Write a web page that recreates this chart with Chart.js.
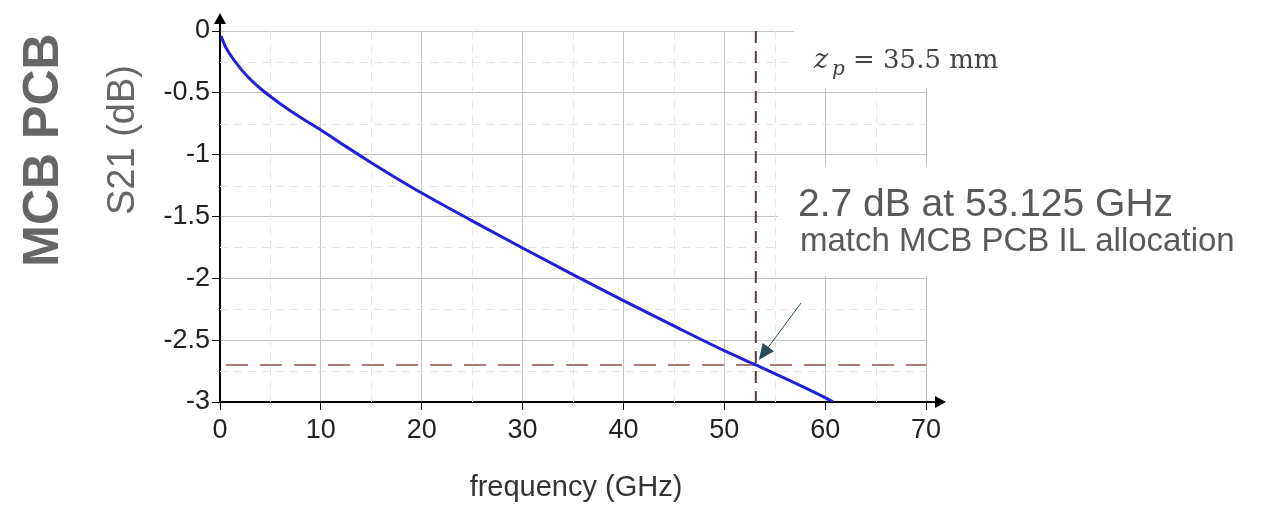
<!DOCTYPE html>
<html>
<head>
<meta charset="utf-8">
<script src="https://cdn.jsdelivr.net/npm/chart.js@4"></script>
<style>
  html, body { margin: 0; padding: 0; background: #fff; }
  #wrap { width: 1261px; height: 505px; }
</style>
</head>
<body>
<div id="wrap"><canvas id="s21Chart" width="1261" height="505"></canvas></div>
<script>
// frequency in GHz, S21 in dB
const freq = [0.1, 0.5, 1, 2, 3, 4, 5, 6, 8, 10, 12.5, 15, 17.5, 20, 25, 30, 35, 40, 45, 50, 53.125, 55, 60, 60.8];
const s21  = [-0.04, -0.12, -0.19, -0.3, -0.39, -0.465, -0.53, -0.59, -0.7, -0.8, -0.935, -1.065, -1.19, -1.31, -1.535, -1.755, -1.97, -2.18, -2.385, -2.585, -2.7, -2.77, -2.965, -3.0];
const markFreq = 53.125;
const markLoss = -2.7;
const xTicks = [0, 10, 20, 30, 40, 50, 60, 70];
const yTicks = [0, -0.5, -1, -1.5, -2, -2.5, -3];

const W = 1261, H = 505;
const plotLeft = 220, plotRight = 926, plotTop = 31, plotBottom = 402;
const sans = '"Liberation Sans", Arial, sans-serif';

const overlay = {
    id: 'overlay',
    beforeDatasetsDraw(chart) {
        const ctx = chart.ctx, x = chart.scales.x, y = chart.scales.y;
        const a = chart.chartArea;
        // minor dashed grid
        ctx.save();
        ctx.strokeStyle = '#e6e6e6';
        ctx.lineWidth = 1;
        ctx.setLineDash([8, 6]);
        for (let f = 5; f < 70; f += 10) {
            const px = Math.round(x.getPixelForValue(f)) + 0.5;
            ctx.beginPath(); ctx.moveTo(px, a.top); ctx.lineTo(px, a.bottom); ctx.stroke();
        }
        for (let v = -0.25; v > -3; v -= 0.5) {
            const py = Math.round(y.getPixelForValue(v)) + 0.5;
            ctx.beginPath(); ctx.moveTo(a.left, py); ctx.lineTo(a.right, py); ctx.stroke();
        }
        // reference lines
        ctx.setLineDash([22, 12]);
        ctx.strokeStyle = '#b07a78';
        ctx.lineWidth = 2;
        const hy = y.getPixelForValue(markLoss);
        ctx.beginPath(); ctx.moveTo(a.left + 6, hy); ctx.lineTo(a.right, hy); ctx.stroke();
        ctx.setLineDash([12, 8]);
        ctx.strokeStyle = '#5a3a36';
        const vx = x.getPixelForValue(markFreq);
        ctx.beginPath(); ctx.moveTo(vx, a.top); ctx.lineTo(vx, a.bottom); ctx.stroke();
        ctx.restore();
    },
    afterDraw(chart) {
        const ctx = chart.ctx, x = chart.scales.x, y = chart.scales.y;
        const a = chart.chartArea;
        ctx.save();
        // white cover boxes behind the annotations
        ctx.fillStyle = '#fff';
        ctx.fillRect(794, 0, 220, 88);
        ctx.fillRect(778, 166, W - 778, 110);

        // axis arrows
        ctx.fillStyle = '#000';
        ctx.strokeStyle = '#000';
        ctx.lineWidth = 2;
        ctx.beginPath(); ctx.moveTo(a.left, a.top); ctx.lineTo(a.left, 20); ctx.stroke();
        ctx.beginPath(); ctx.moveTo(a.left, 13); ctx.lineTo(a.left - 6, 24); ctx.lineTo(a.left + 6, 24); ctx.closePath(); ctx.fill();
        ctx.beginPath(); ctx.moveTo(a.right, a.bottom); ctx.lineTo(938, a.bottom); ctx.stroke();
        ctx.beginPath(); ctx.moveTo(946, a.bottom); ctx.lineTo(935, a.bottom - 6); ctx.lineTo(935, a.bottom + 6); ctx.closePath(); ctx.fill();

        // axis titles
        ctx.fillStyle = '#333';
        ctx.font = '29px ' + sans;
        ctx.textAlign = 'center';
        ctx.textBaseline = 'middle';
        ctx.fillText('frequency (GHz)', 576, 488);

        ctx.save();
        ctx.translate(124, 140);
        ctx.rotate(-Math.PI / 2);
        ctx.fillStyle = '#666';
        ctx.font = '38px ' + sans;
        ctx.fillText('S21 (dB)', 0, 0);
        ctx.restore();

        ctx.save();
        ctx.translate(44, 150);
        ctx.rotate(-Math.PI / 2);
        ctx.fillStyle = '#666';
        ctx.font = 'bold 50px ' + sans;
        ctx.fillText('MCB PCB', 0, 0);
        ctx.restore();

        // annotation texts
        ctx.textAlign = 'left';
        ctx.textBaseline = 'alphabetic';
        ctx.fillStyle = '#595959';
        ctx.font = '39px ' + sans;
        ctx.fillText('2.7 dB at 53.125 GHz', 798, 216);
        ctx.font = '33px ' + sans;
        ctx.fillText('match MCB PCB IL allocation', 800, 251);

        ctx.fillStyle = '#444';
        ctx.font = 'italic 27px "DejaVu Serif", "Liberation Serif", serif';
        ctx.fillText('z', 814, 68);
        ctx.font = 'italic 20px "DejaVu Serif", "Liberation Serif", serif';
        ctx.fillText('p', 832, 75);
        ctx.font = '26px "DejaVu Serif", "Liberation Serif", serif';
        ctx.fillText('= 35.5 mm', 853, 68);

        // pointer arrow
        const tx = x.getPixelForValue(markFreq) + 3, ty = y.getPixelForValue(markLoss) - 5;
        const sx = 801, sy = 303;
        ctx.strokeStyle = '#2c4a5a';
        ctx.fillStyle = '#2c4a5a';
        ctx.lineWidth = 1;
        ctx.beginPath(); ctx.moveTo(sx, sy); ctx.lineTo(tx + 6, ty - 8); ctx.stroke();
        const ang = Math.atan2(ty - sy, tx - sx);
        ctx.beginPath();
        ctx.moveTo(tx, ty);
        ctx.lineTo(tx - 16 * Math.cos(ang) + 7 * Math.sin(ang), ty - 16 * Math.sin(ang) - 7 * Math.cos(ang));
        ctx.lineTo(tx - 16 * Math.cos(ang) - 7 * Math.sin(ang), ty - 16 * Math.sin(ang) + 7 * Math.cos(ang));
        ctx.closePath();
        ctx.fill();
        ctx.restore();
    }
};

const ctx = document.getElementById('s21Chart').getContext('2d');
new Chart(ctx, {
    type: 'line',
    data: {
        datasets: [{
            data: freq.map((f, i) => ({ x: f, y: s21[i] })),
            borderColor: '#2020d8',
            borderWidth: 3,
            pointRadius: 0,
            cubicInterpolationMode: 'monotone',
            fill: false
        }]
    },
    options: {
        responsive: false,
        animation: false,
        devicePixelRatio: 1,
        layout: {
            padding: { left: 0, top: plotTop, right: W - plotRight, bottom: 0 }
        },
        plugins: { legend: { display: false }, tooltip: { enabled: false } },
        scales: {
            x: {
                type: 'linear',
                min: 0, max: 70,
                afterFit: s => { s.height = H - plotBottom; },
                afterBuildTicks: s => { s.ticks = xTicks.map(v => ({ value: v })); },
                border: { color: '#000', width: 2 },
                grid: { color: '#c4c4c4', lineWidth: 1, tickColor: '#000', tickLength: 8 },
                ticks: {
                    color: '#222', padding: 4, maxRotation: 0,
                    font: { size: 27, family: sans }
                }
            },
            y: {
                type: 'linear',
                min: -3, max: 0,
                afterFit: s => { s.width = plotLeft; },
                afterBuildTicks: s => { s.ticks = yTicks.map(v => ({ value: v })); },
                border: { color: '#000', width: 2 },
                grid: { color: '#c4c4c4', lineWidth: 1, tickColor: '#000', tickLength: 8 },
                ticks: {
                    color: '#222', padding: 2,
                    font: { size: 27, family: sans },
                    callback: v => String(v)
                }
            }
        }
    },
    plugins: [overlay]
});
</script>
</body>
</html>
